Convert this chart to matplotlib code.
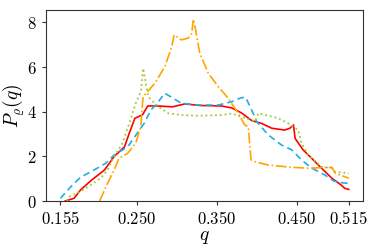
import numpy as np
import matplotlib
matplotlib.use("Agg")
import matplotlib.pyplot as plt

plt.rcParams['mathtext.fontset'] = 'cm'
plt.rcParams['font.family'] = 'serif'
plt.rcParams['font.serif'] = ['cmr10', 'DejaVu Serif']
plt.rcParams['axes.formatter.use_mathtext'] = True

# red solid
q_red = [0.161, 0.172, 0.180, 0.193, 0.210, 0.222, 0.235, 0.241, 0.248, 0.2575, 0.264,
         0.276, 0.295, 0.31, 0.33, 0.356, 0.369, 0.381, 0.394, 0.406, 0.419, 0.435,
         0.4415, 0.446, 0.448, 0.458, 0.4646, 0.481, 0.494, 0.504, 0.510, 0.515]
p_red = [0.0, 0.12, 0.49, 0.91, 1.39, 1.99, 2.43, 3.04, 3.71, 3.86, 4.26,
         4.26, 4.22, 4.35, 4.28, 4.26, 4.17, 3.95, 3.6, 3.48, 3.26, 3.18,
         3.26, 3.41, 2.81, 2.29, 2.06, 1.47, 1.02, 0.76, 0.57, 0.52]

# blue dashed
q_blue = [0.155, 0.168, 0.180, 0.197, 0.2116, 0.222, 0.239, 0.251, 0.2596, 0.268, 0.274,
          0.2854, 0.306, 0.327, 0.352, 0.369, 0.380, 0.386, 0.392, 0.400, 0.4146, 0.431,
          0.444, 0.456, 0.469, 0.485, 0.496, 0.506, 0.515]
p_blue = [0.12, 0.64, 1.06, 1.39, 1.69, 2.06, 2.43, 3.04, 3.48, 4.08, 4.3,
          4.83, 4.38, 4.3, 4.3, 4.45, 4.62, 4.65, 4.23, 3.56, 2.96, 2.51,
          2.29, 1.84, 1.47, 1.17, 0.9, 0.82, 0.79]

# green dotted
q_green = [0.163, 0.166, 0.180, 0.193, 0.205, 0.2138, 0.222, 0.2325, 0.241, 0.249, 0.2554,
           0.2584, 0.2646, 0.277, 0.2896, 0.306, 0.327, 0.356, 0.369, 0.381, 0.398,
           0.402, 0.427, 0.4396, 0.452, 0.456, 0.4646, 0.481, 0.494, 0.498, 0.515]
p_green = [0.0, 0.19, 0.42, 0.72, 1.02, 1.39, 1.99, 2.59, 3.48, 4.38, 4.9,
           5.95, 4.68, 4.23, 3.93, 3.85, 3.82, 3.85, 3.92, 3.78, 3.56,
           3.93, 3.71, 3.48, 3.18, 2.59, 2.06, 1.54, 1.47, 1.31, 1.24]

# orange dash-dot
q_orange = [0.204, 0.2138, 0.222, 0.228, 0.239, 0.249, 0.2554, 0.2575, 0.2584, 0.273,
            0.2854, 0.294, 0.297, 0.306, 0.3146, 0.319, 0.321, 0.323, 0.329, 0.3396,
            0.352, 0.3646, 0.377, 0.385, 0.3896, 0.393, 0.398, 0.4146, 0.444, 0.4646,
            0.494, 0.498, 0.510, 0.515]
p_orange = [0.0, 0.79, 1.39, 1.91, 2.14, 2.59, 3.33, 4.38, 4.68, 5.28,
            6.02, 6.92, 7.44, 7.22, 7.3, 7.52, 8.15, 7.82, 6.62, 5.73,
            5.13, 4.6, 3.93, 3.41, 3.33, 1.84, 1.76, 1.61, 1.51, 1.47,
            1.51, 1.24, 1.09, 1.02]

xticks = [0.155, 0.250, 0.350, 0.450, 0.515]
yticks = [0, 2, 4, 6, 8]

fig = plt.figure(figsize=(3.74, 2.5), dpi=100)
ax = fig.add_axes([0.123, 0.196, 0.848, 0.764])

ax.plot(q_red, p_red, color='red', lw=1.2, ls='-')
ax.plot(q_blue, p_blue, color='#1eaee6', lw=1.2, ls=(0, (4, 2.5)))
ax.plot(q_green, p_green, color='yellowgreen', lw=1.3, ls=':')
ax.plot(q_orange, p_orange, color='orange', lw=1.2, ls='-.')

ax.set_xlim(0.137, 0.533)
ax.set_ylim(0, 8.56)
ax.set_xticks(xticks)
ax.set_xticklabels(['$%.3f$' % t for t in xticks])
ax.set_yticks(yticks)
ax.set_yticklabels(['$%d$' % t for t in yticks])
ax.tick_params(labelsize=12, length=3, color='#333333')
for s in ax.spines.values():
    s.set_color('#333333')

ax.set_xlabel('$q$', fontsize=14, labelpad=1)
ax.set_ylabel(r'$P_\varrho(q)$', fontsize=14, labelpad=0)

fig.savefig('out.png', dpi=100)
